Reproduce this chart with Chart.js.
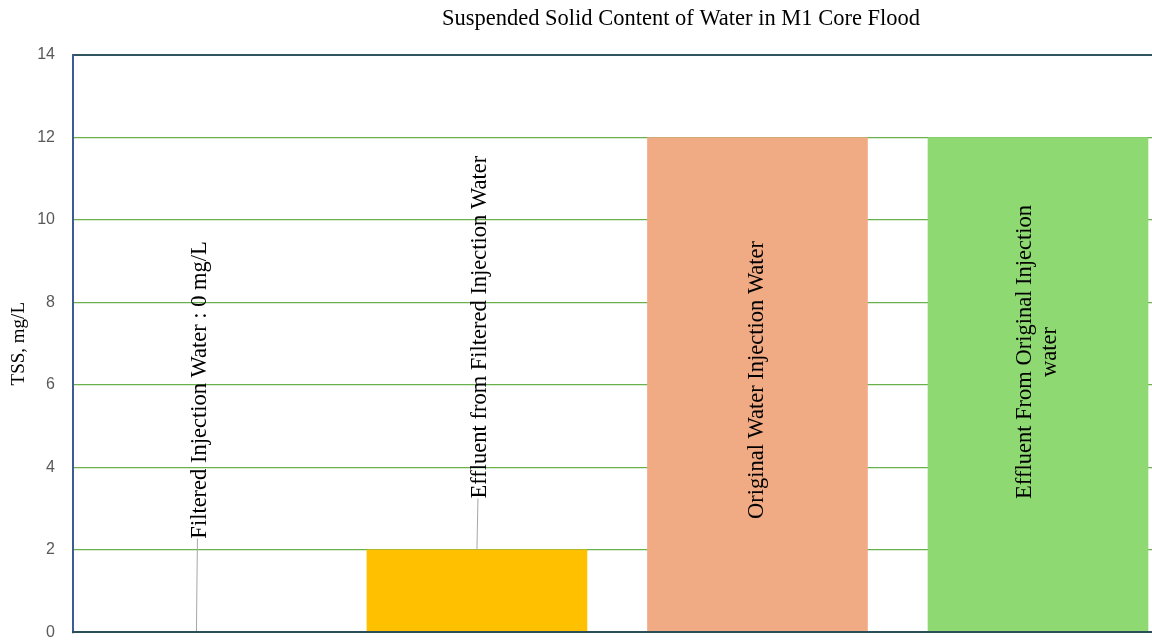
<!DOCTYPE html>
<html>
<head>
<meta charset="utf-8">
<script src="https://cdn.jsdelivr.net/npm/chart.js@4"></script>
<style>
    body { margin: 0; background: #fff; }
    #wrap { width: 1152px; height: 640px; overflow: hidden; position: relative; }
</style>
</head>
<body>
<div id="wrap"><canvas id="tss-chart" width="1372" height="660"></canvas></div>
<script>
// Chart data
const categories = ['Filtered Injection Water', 'Effluent from Filtered Injection Water', 'Original Water Injection Water', 'Effluent From Original Injection water'];
const tssValues = [0, 2, 12, 12];
const barLabels = [
    ['Filtered Injection Water : 0 mg/L'],
    ['Effluent from Filtered Injection Water'],
    ['Original Water Injection Water'],
    ['Effluent From Original Injection', 'water']
];
const yTicks = [0, 2, 4, 6, 8, 10, 12, 14];
const barColors = ['#FFC000', '#FFC000', '#F0AA84', '#8FD973'];

// where each rotated label is centred (in TSS units) and whether it has a leader line
const labelAt = [5.88, 7.4, 6.12, 6.8];
const labelDx = [4, 3, 0, 0];
const hasLeader = [true, true, false, false];

const serif = '"Liberation Serif", "Times New Roman", serif';
const sans = '"Liberation Sans", Arial, sans-serif';

const barLabelPlugin = {
    id: 'barLabels',
    afterDatasetsDraw(chart) {
        const ctx = chart.ctx;
        const xs = chart.scales.x, ys = chart.scales.y;
        ctx.save();
        ctx.font = '22.5px ' + serif;
        ctx.fillStyle = '#000';
        barLabels.forEach((lines, i) => {
            const x = xs.getPixelForValue(i);
            const y = ys.getPixelForValue(labelAt[i]);
            const w = Math.max(...lines.map(l => ctx.measureText(l).width));
            if (hasLeader[i]) {
                ctx.strokeStyle = '#A6A6A6';
                ctx.lineWidth = 1;
                ctx.beginPath();
                ctx.moveTo(x, ys.getPixelForValue(tssValues[i]));
                ctx.lineTo(x + 1, y + w / 2);
                ctx.stroke();
            }
            ctx.save();
            ctx.translate(x + labelDx[i], y);
            ctx.rotate(-Math.PI / 2);
            ctx.textAlign = 'center';
            ctx.textBaseline = 'middle';
            const lh = 25;
            lines.forEach((l, k) => {
                ctx.fillText(l, 0, (k - (lines.length - 1) / 2) * lh);
            });
            ctx.restore();
        });
        ctx.restore();
    }
};

new Chart(document.getElementById('tss-chart'), {
    type: 'bar',
    data: {
        datasets: [{
            label: 'TSS',
            data: tssValues.map((v, i) => ({x: i, y: v})),
            // a zero-height bar leaves no visible mark
            backgroundColor: tssValues.map((v, i) => v === 0 ? 'rgba(0,0,0,0)' : barColors[i]),
            barThickness: 220
        }]
    },
    options: {
        responsive: false,
        animation: false,
        layout: {padding: {left: 0, right: 10, top: 0, bottom: 25}},
        plugins: {
            legend: {display: false},
            tooltip: {enabled: false},
            title: {
                display: true,
                text: 'Suspended Solid Content of Water in M1 Core Flood',
                color: '#000',
                font: {family: serif, size: 22.5, weight: 'normal'},
                padding: {top: 6, bottom: 22}
            }
        },
        scales: {
            x: {
                type: 'linear',
                offset: false,
                min: -0.44,
                max: 4.155,
                ticks: {display: false},
                grid: {display: false, drawTicks: false, offset: false},
                border: {display: true, color: '#2B4F5A', width: 2, z: 1}
            },
            y: {
                min: 0,
                max: 14,
                afterBuildTicks: s => { s.ticks = yTicks.map(v => ({value: v})); },
                afterFit: s => { s.width = 73; },
                ticks: {
                    color: '#595959',
                    font: {family: sans, size: 16},
                    padding: 18
                },
                grid: {
                    drawTicks: false,
                    lineWidth: c => c.tick && c.tick.value === 14 ? 2 : 1.3,
                    color: c => {
                        if (!c.tick) return '#6AB04C';
                        if (c.tick.value === 14) return '#2E5560';
                        if (c.tick.value === 0) return 'rgba(0,0,0,0)';
                        return '#6AB04C';
                    }
                },
                border: {display: true, color: '#3F5B96', width: 2},
                title: {
                    display: true,
                    text: 'TSS, mg/L',
                    color: '#000',
                    font: {family: serif, size: 19},
                    padding: {top: 8, bottom: 0}
                }
            }
        }
    },
    plugins: [barLabelPlugin]
});
</script>
</body>
</html>
